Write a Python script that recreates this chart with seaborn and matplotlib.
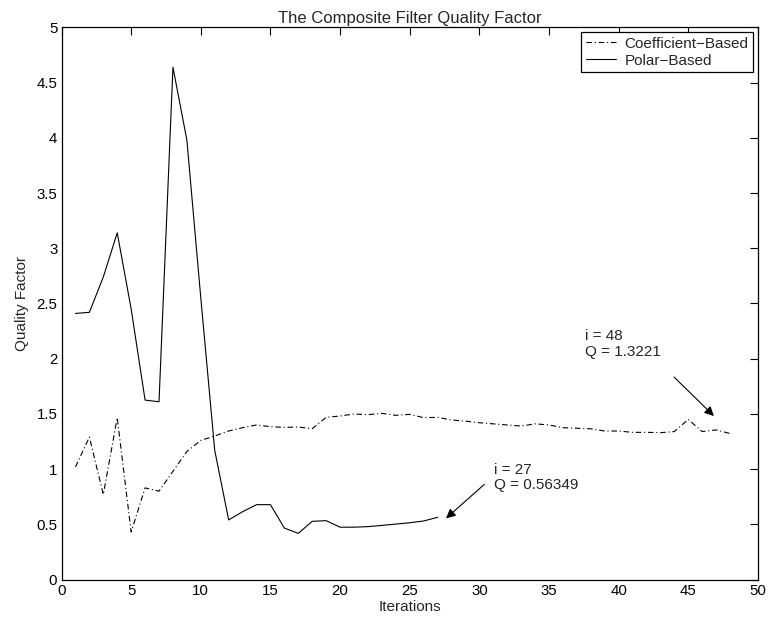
import matplotlib
matplotlib.use("Agg")
import matplotlib.pyplot as plt
import numpy as np
import pandas as pd
import seaborn as sns

# Quality factor per iteration for the two filter designs
coef_iters = list(range(1, 49))
coef_q = [1.02, 1.29, 0.77, 1.465, 0.43, 0.83, 0.80, 0.98, 1.16, 1.26,
          1.30, 1.345, 1.375, 1.40, 1.384, 1.378, 1.381, 1.366, 1.469, 1.481,
          1.499, 1.493, 1.505, 1.487, 1.496, 1.466, 1.469, 1.445, 1.435, 1.42,
          1.41, 1.40, 1.39, 1.41, 1.40, 1.375, 1.37, 1.365, 1.345, 1.345,
          1.333, 1.333, 1.33, 1.34, 1.45, 1.34, 1.355, 1.3221]

polar_iters = list(range(1, 28))
polar_q = [2.41, 2.42, 2.74, 3.14, 2.45, 1.625, 1.61, 4.64, 3.98, 2.55,
           1.17, 0.54, 0.614, 0.678, 0.678, 0.466, 0.418, 0.527, 0.533, 0.474,
           0.474, 0.479, 0.49, 0.502, 0.514, 0.53, 0.56349]

series_names = ["Coefficient\u2212Based", "Polar\u2212Based"]
x_ticks = list(range(0, 51, 5))
y_ticks = [0, 0.5, 1, 1.5, 2, 2.5, 3, 3.5, 4, 4.5, 5]
y_tick_labels = ["0", "0.5", "1", "1.5", "2", "2.5", "3", "3.5", "4", "4.5", "5"]

coef_df = pd.DataFrame({"Iterations": coef_iters, "Quality Factor": coef_q})
polar_df = pd.DataFrame({"Iterations": polar_iters, "Quality Factor": polar_q})

sns.set_style("white")
plt.rcParams["font.family"] = ["Liberation Sans", "DejaVu Sans"]
plt.rcParams["font.size"] = 11

fig = plt.figure(figsize=(7.71, 6.23), dpi=100)
ax = fig.add_axes([0.0798, 0.0698, 0.9032, 0.8861])

sns.lineplot(data=coef_df, x="Iterations", y="Quality Factor", ax=ax,
             color="black", linewidth=0.8, label=series_names[0],
             linestyle=(0, (5, 2.5, 1, 2.5)))
sns.lineplot(data=polar_df, x="Iterations", y="Quality Factor", ax=ax,
             color="black", linewidth=0.8, label=series_names[1])

ax.set_xlim(0, 50)
ax.set_ylim(0, 5)
ax.set_xticks(x_ticks)
ax.set_yticks(y_ticks)
ax.set_yticklabels(y_tick_labels)
ax.tick_params(direction="in", length=6, width=0.8, colors="black",
               top=True, right=True, labelsize=10.8, pad=3)
for side in ax.spines.values():
    side.set_visible(True)
    side.set_color("black")
    side.set_linewidth(0.9)

ax.set_xlabel("Iterations", fontsize=11, labelpad=2)
ax.set_ylabel("Quality Factor", fontsize=11, labelpad=5)
ax.set_title("The Composite Filter Quality Factor", fontsize=12, pad=3)

leg = ax.legend(loc="upper right", frameon=True, fancybox=False,
                edgecolor="black", framealpha=1, fontsize=11,
                handlelength=2.0, handletextpad=0.55, borderpad=0.3,
                labelspacing=0.2, borderaxespad=0.3)
leg.get_frame().set_linewidth(0.9)

# Callouts for the final iteration of each design
arrow = dict(arrowstyle="-|>", color="black", lw=0.8, mutation_scale=14,
             shrinkA=0, shrinkB=0)
ax.annotate("", xy=(46.84, 1.481), xytext=(43.98, 1.834), arrowprops=arrow)
ax.text(37.6, 2.133, "i = 48\nQ = 1.3221", fontsize=11, va="center",
        ha="left", linespacing=1.1)
ax.annotate("", xy=(27.61, 0.554), xytext=(30.36, 0.862), arrowprops=arrow)
ax.text(31.07, 0.92, "i = 27\nQ = 0.56349", fontsize=11, va="center",
        ha="left", linespacing=1.1)

fig.savefig("out.png", dpi=100)
